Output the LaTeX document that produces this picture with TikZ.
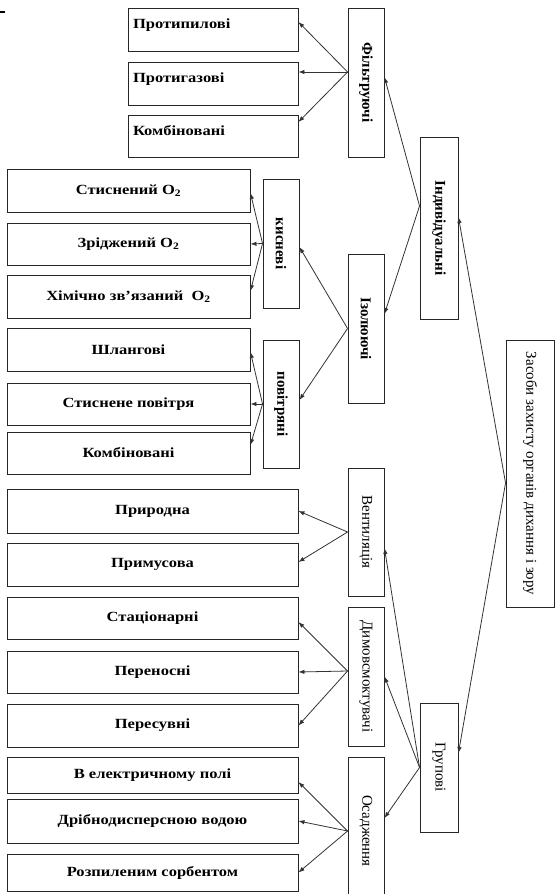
\documentclass[tikz,border=0pt]{standalone}
\usepackage{fontspec}
\setmainfont{Liberation Serif}
\usepackage{graphicx}
\usetikzlibrary{arrows.meta}

\newcommand{\leaffont}{\fontsize{14}{16}\selectfont\bfseries\addfontfeature{FakeStretch=1.18}}
\newcommand{\vfont}{\fontsize{15}{17}\selectfont}
\newcommand{\vtext}[1]{\rotatebox{-90}{#1}}

\tikzset{
  leaf/.style={draw=black!85, line width=0.9pt, inner sep=2pt, font=\leaffont},
  fleaf/.style={leaf, text width=160, align=left, text depth=12pt},
  vbox/.style={draw=black!85, line width=0.9pt, inner sep=0pt, font=\vfont},
  link/.style={draw=black!80, line width=0.8pt, -{Latex[length=6pt,width=4.5pt]}}
}

\begin{document}
\begin{tikzpicture}[x=1pt,y=-1pt]
\useasboundingbox (0,0) rectangle (555,894);
\draw [black, line width=2pt] (0,11.5) -- (5,11.5);
\node [vbox, minimum width=48, minimum height=267] (zasoby) at (530,473.5) {\vtext{Засоби захисту органів дихання і зору}};
\node [vbox, minimum width=38, minimum height=182, font=\vfont\bfseries] (indyv) at (439,228) {\vtext{Індивідуальні}};
\node [vbox, minimum width=38, minimum height=129] (grup) at (439,767.5) {\vtext{Групові}};
\node [vbox, minimum width=36, minimum height=149, font=\vfont\bfseries] (filtr) at (366,82.5) {\vtext{Фільтруючі}};
\node [vbox, minimum width=36, minimum height=149, font=\vfont\bfseries] (izol) at (366,328.5) {\vtext{Ізолюючі}};
\node [vbox, minimum width=36, minimum height=129, font=\vfont\bfseries] (kysn) at (281,243.5) {\vtext{кисневі}};
\node [vbox, minimum width=36, minimum height=128, font=\vfont\bfseries] (povit) at (281,404) {\vtext{повітряні}};
\node [vbox, minimum width=36, minimum height=128] (vent) at (366,532) {\vtext{Вентиляція}};
\node [vbox, minimum width=36, minimum height=139] (dymo) at (366,676.5) {\vtext{Димовсмоктувачі}};
\node [vbox, minimum width=36, minimum height=148] (osad) at (366,831) {\vtext{Осадження}};
\node [fleaf, minimum width=170, minimum height=43] (fl1) at (213,29.5) {Протипилові};
\node [fleaf, minimum width=170, minimum height=43] (fl2) at (213,83.5) {Протигазові};
\node [fleaf, minimum width=170, minimum height=42] (fl3) at (213,136) {Комбіновані};
\node [leaf, minimum width=243, minimum height=43] (ks1) at (128.5,190.5) {Стиснений O\textsubscript{2}};
\node [leaf, minimum width=243, minimum height=42] (ks2) at (128.5,244) {Зріджений O\textsubscript{2}};
\node [leaf, minimum width=243, minimum height=43] (ks3) at (128.5,296.5) {Хімічно зв’язаний~ O\textsubscript{2}};
\node [leaf, minimum width=243, minimum height=43] (pv1) at (128.5,349.5) {Шлангові};
\node [leaf, minimum width=243, minimum height=42] (pv2) at (128.5,404) {Стиснене повітря};
\node [leaf, minimum width=243, minimum height=42] (pv3) at (128.5,453) {Комбіновані};
\node [leaf, minimum width=291, minimum height=44] (vn1) at (152.5,511) {Природна};
\node [leaf, minimum width=291, minimum height=43] (vn2) at (152.5,564.5) {Примусова};
\node [leaf, minimum width=291, minimum height=42] (dm1) at (152.5,618) {Стаціонарні};
\node [leaf, minimum width=291, minimum height=42] (dm2) at (152.5,672) {Переносні};
\node [leaf, minimum width=291, minimum height=43] (dm3) at (152.5,725.5) {Пересувні};
\node [leaf, minimum width=291, minimum height=36] (os1) at (152.5,775) {В електричному полі};
\node [leaf, minimum width=291, minimum height=44] (os2) at (152.5,821) {Дрібнодисперсною водою};
\node [leaf, minimum width=291, minimum height=37] (os3) at (152.5,872.5) {Розпиленим сорбентом};
\draw [link] ([yshift=-9.5pt]zasoby.west) -- ([yshift=11pt]indyv.east);
\draw [link] ([yshift=-9.5pt]zasoby.west) -- ([yshift=14.5pt]grup.east);
\draw [link] ([yshift=22pt]indyv.west) -- ([yshift=5.5pt]filtr.east);
\draw [link] ([yshift=22pt]indyv.west) -- ([yshift=14.5pt]izol.east);
\draw [link] ([yshift=10.5pt]filtr.west) -- ([yshift=7.5pt]fl1.east);
\draw [link] ([yshift=10.5pt]filtr.west) -- ([yshift=11.5pt]fl2.east);
\draw [link] ([yshift=10.5pt]filtr.west) -- ([yshift=14pt]fl3.east);
\draw [link] (izol.west) -- ([yshift=-3.5pt]kysn.east);
\draw [link] (izol.west) -- ([yshift=4pt]povit.east);
\draw [link] (kysn.west) -- ([yshift=-2.5pt]ks1.east);
\draw [link] (kysn.west) -- (ks2.east);
\draw [link] (kysn.west) -- ([yshift=5.5pt]ks3.east);
\draw [link] (povit.west) -- ([yshift=-2.5pt]pv1.east);
\draw [link] (povit.west) -- (pv2.east);
\draw [link] (povit.west) -- ([yshift=8pt]pv3.east);
\draw [link] (grup.west) -- ([yshift=-16pt]vent.east);
\draw [link] (grup.west) -- (dymo.east);
\draw [link] (grup.west) -- ([yshift=13pt]osad.east);
\draw [link] (vent.west) -- (vn1.east);
\draw [link] (vent.west) -- ([yshift=2.5pt]vn2.east);
\draw [link] ([yshift=5.5pt]dymo.west) -- ([yshift=-4pt]dm1.east);
\draw [link] ([yshift=5.5pt]dymo.west) -- (dm2.east);
\draw [link] ([yshift=5.5pt]dymo.west) -- (dm3.east);
\draw [link] (osad.west) -- ([yshift=-7pt]os1.east);
\draw [link] (osad.west) -- (os2.east);
\draw [link] (osad.west) -- (os3.east);
\end{tikzpicture}
\end{document}
